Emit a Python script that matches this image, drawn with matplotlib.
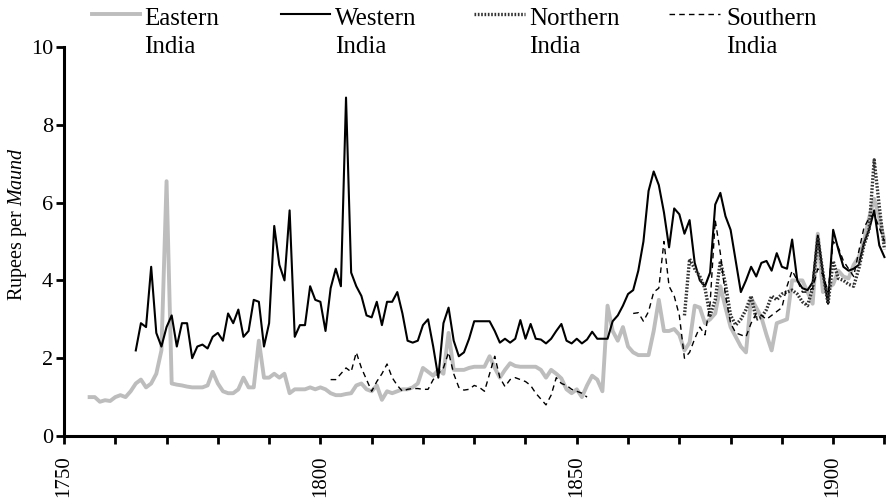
import numpy as np
import matplotlib
matplotlib.use("Agg")
from matplotlib import pyplot as plt
from matplotlib.lines import Line2D
from matplotlib.ticker import MultipleLocator

plt.rcParams["font.family"] = ["Liberation Serif", "DejaVu Serif"]
plt.rcParams["mathtext.fontset"] = "custom"
plt.rcParams["mathtext.rm"] = "Liberation Serif"
plt.rcParams["mathtext.it"] = "Liberation Serif:italic"

nan = float("nan")

# Eastern India, 1755-1910
east_start = 1755
east = [1.0, 1.0, 0.88, 0.92, 0.9, 1.0, 1.05, 1.0, 1.15, 1.35,
        1.45, 1.25, 1.35, 1.6, 2.2, 6.55, 1.35, 1.32, 1.3, 1.27,
        1.25, 1.25, 1.25, 1.3, 1.65, 1.35, 1.15, 1.1, 1.1, 1.2,
        1.5, 1.25, 1.25, 2.45, 1.5, 1.5, 1.6, 1.5, 1.6, 1.1,
        1.2, 1.2, 1.2, 1.25, 1.2, 1.25, 1.2, 1.1, 1.05, 1.05,
        1.08, 1.1, 1.3, 1.35, 1.2, 1.15, 1.3, 0.93, 1.15, 1.1,
        1.15, 1.2, 1.2, 1.25, 1.35, 1.75, 1.65, 1.55, 1.7, 1.6,
        2.65, 1.7, 1.7, 1.7, 1.75, 1.78, 1.78, 1.78, 2.05, 1.75,
        1.5, 1.7, 1.87, 1.8, 1.78, 1.78, 1.78, 1.78, 1.7, 1.5,
        1.7, 1.6, 1.48, 1.2, 1.1, 1.2, 1.0, 1.3, 1.55, 1.45,
        1.15, 3.35, 2.7, 2.45, 2.8, 2.3, 2.15, 2.08, 2.08, 2.08,
        2.7, 3.5, 2.7, 2.7, 2.75, 2.6, 2.2, 2.4, 3.35, 3.3,
        2.9, 3.0, 3.15, 3.85, 3.3, 2.8, 2.55, 2.3, 2.15, 3.55,
        3.3, 3.05, 2.6, 2.2, 2.9, 2.95, 3.0, 4.0, 4.0, 4.0,
        3.7, 3.4, 5.2, 3.7, 3.8, 3.9, 4.25, 4.1, 4.05, 4.4,
        4.6, 5.0, 5.6, 6.1, 5.6, 5.0]

# Western India, 1764-1910
west_start = 1764
west = [2.2, 2.9, 2.8, 4.35, 2.65, 2.3, 2.8, 3.1, 2.3, 2.9,
        2.9, 2.0, 2.3, 2.35, 2.25, 2.55, 2.65, 2.45, 3.15, 2.9,
        3.25, 2.55, 2.7, 3.5, 3.45, 2.3, 2.9, 5.4, 4.4, 4.0,
        5.8, 2.55, 2.85, 2.85, 3.85, 3.5, 3.45, 2.7, 3.8, 4.3,
        3.85, 8.7, 4.2, 3.85, 3.6, 3.1, 3.05, 3.45, 2.85, 3.45,
        3.45, 3.7, 3.15, 2.45, 2.4, 2.45, 2.85, 3.0, 2.3, 1.5,
        2.9, 3.3, 2.45, 2.05, 2.15, 2.5, 2.95, 2.95, 2.95, 2.95,
        2.7, 2.4, 2.5, 2.4, 2.5, 2.98, 2.5, 2.88, 2.5, 2.48,
        2.38, 2.5, 2.7, 2.88, 2.45, 2.38, 2.5, 2.38, 2.48, 2.68,
        2.5, 2.5, 2.5, 2.95, 3.1, 3.35, 3.65, 3.75, 4.25, 5.0,
        6.3, 6.8, 6.45, 5.75, 4.85, 5.85, 5.7, 5.2, 5.55, 4.45,
        4.0, 3.85, 4.2, 5.95, 6.25, 5.65, 5.3, 4.5, 3.7, 4.0,
        4.35, 4.1, 4.45, 4.5, 4.25, 4.7, 4.35, 4.3, 5.05, 4.0,
        3.8, 3.75, 3.95, 5.15, 4.2, 3.4, 5.3, 4.8, 4.35, 4.25,
        4.3, 4.4, 4.95, 5.3, 5.8, 4.9, 4.6]

# Northern India, 1871-1910
north_start = 1871
north = [3.1, 4.55, 4.3, 4.1, 3.8, 3.1, 3.5, 4.5, 3.9, 3.1,
         2.85, 3.0, 3.25, 3.6, 3.0, 3.05, 3.25, 3.6, 3.5, 3.65,
         3.7, 3.75, 3.65, 3.45, 3.35, 3.8, 5.1, 4.2, 3.4, 4.5,
         4.05, 4.0, 3.9, 3.85, 4.3, 4.9, 5.3, 7.1, 5.9, 4.8]

# Southern India, 1802-1910 (no data 1853-1860)
south_start = 1802
south = [1.45, 1.45, 1.6, 1.75, 1.65, 2.15, 1.75, 1.45, 1.15, 1.4,
         1.6, 1.85, 1.5, 1.3, 1.15, 1.2, 1.22, 1.22, 1.2, 1.2,
         1.45, 1.6, 1.75, 2.15, 1.6, 1.25, 1.18, 1.2, 1.3, 1.25,
         1.15, 1.6, 2.05, 1.5, 1.27, 1.45, 1.5, 1.45, 1.4, 1.3,
         1.1, 0.95, 0.8, 1.05, 1.5, 1.35, 1.3, 1.2, 1.15, 1.1,
         1.0, nan, nan, nan, nan, nan, nan, nan, nan, 3.15,
         3.17, 2.95, 3.2, 3.7, 3.8, 5.0, 3.85, 3.6, 3.1, 2.0,
         2.15, 2.5, 2.8, 2.6, 3.4, 5.55, 4.7, 3.6, 2.9, 2.65,
         2.6, 2.55, 2.9, 3.15, 3.1, 3.0, 3.1, 3.2, 3.3, 3.85,
         4.25, 4.0, 3.7, 3.7, 3.8, 4.3, 4.15, 3.7, 5.0, 4.85,
         4.5, 4.3, 4.1, 4.75, 5.35, 5.6, 5.7, 5.35, 5.0]

labels = ["Eastern", "Western", "Northern", "Southern"]
x_labels = ["1750", "1800", "1850", "1900"]

W, H = 887, 501
fig = plt.figure(figsize=(W / 100, H / 100), dpi=100)
ax = fig.add_axes([64 / W, 1 - 436 / H, 1 - 64 / W, (436 - 47) / H])

styles = [
    dict(color="#bdbdbd", lw=2.8, ls="-"),
    dict(color="black", lw=1.5, ls="-"),
    dict(color="#333333", lw=2.4, ls=(0, (0.5, 0.5))),
    dict(color="black", lw=1.0, ls=(0, (4, 3))),
]

series = [(east_start, east), (west_start, west), (north_start, north), (south_start, south)]
order = [0, 1, 3, 2]
for i in order:
    start, vals = series[i]
    yrs = np.arange(start, start + len(vals))
    ax.plot(yrs, vals, zorder=2 + i, **styles[i])

ax.set_xlim(1750, 1910.5)
ax.set_ylim(0, 10)
ax.xaxis.set_minor_locator(MultipleLocator(10))
ax.set_xticks([int(s) for s in x_labels])
ax.set_xticklabels(x_labels, rotation=90, fontsize=15)
ax.set_yticks(range(0, 11, 2))
ax.set_yticklabels([str(v) for v in range(0, 11, 2)], fontsize=16)
ax.tick_params(axis="both", which="both", direction="out", length=6, width=2, pad=2)
ax.tick_params(axis="x", pad=8)

for s in ["top", "right"]:
    ax.spines[s].set_visible(False)
for s in ["left", "bottom"]:
    ax.spines[s].set_linewidth(2.2)

ax.set_ylabel("Rupees per $\\mathit{Maund}$", fontsize=14.5)
ax.yaxis.set_label_coords(-0.043, 0.545)

# legend drawn by hand: handle next to the first line, "India" under it
leg_x = [(92, 140, 144), (281, 330, 335), (474, 525, 529), (669, 720, 726)]
for (h0, h1, tx), lab, st in zip(leg_x, labels, styles):
    fig.add_artist(Line2D([h0 / W, h1 / W], [1 - 14 / H, 1 - 14 / H],
                          transform=fig.transFigure, **st))
    fig.text(tx / W, 1 - 25 / H, lab, fontsize=18, va="baseline", ha="left")
    fig.text(tx / W, 1 - 53 / H, "India", fontsize=18, va="baseline", ha="left")

fig.savefig("out.png", dpi=100)
